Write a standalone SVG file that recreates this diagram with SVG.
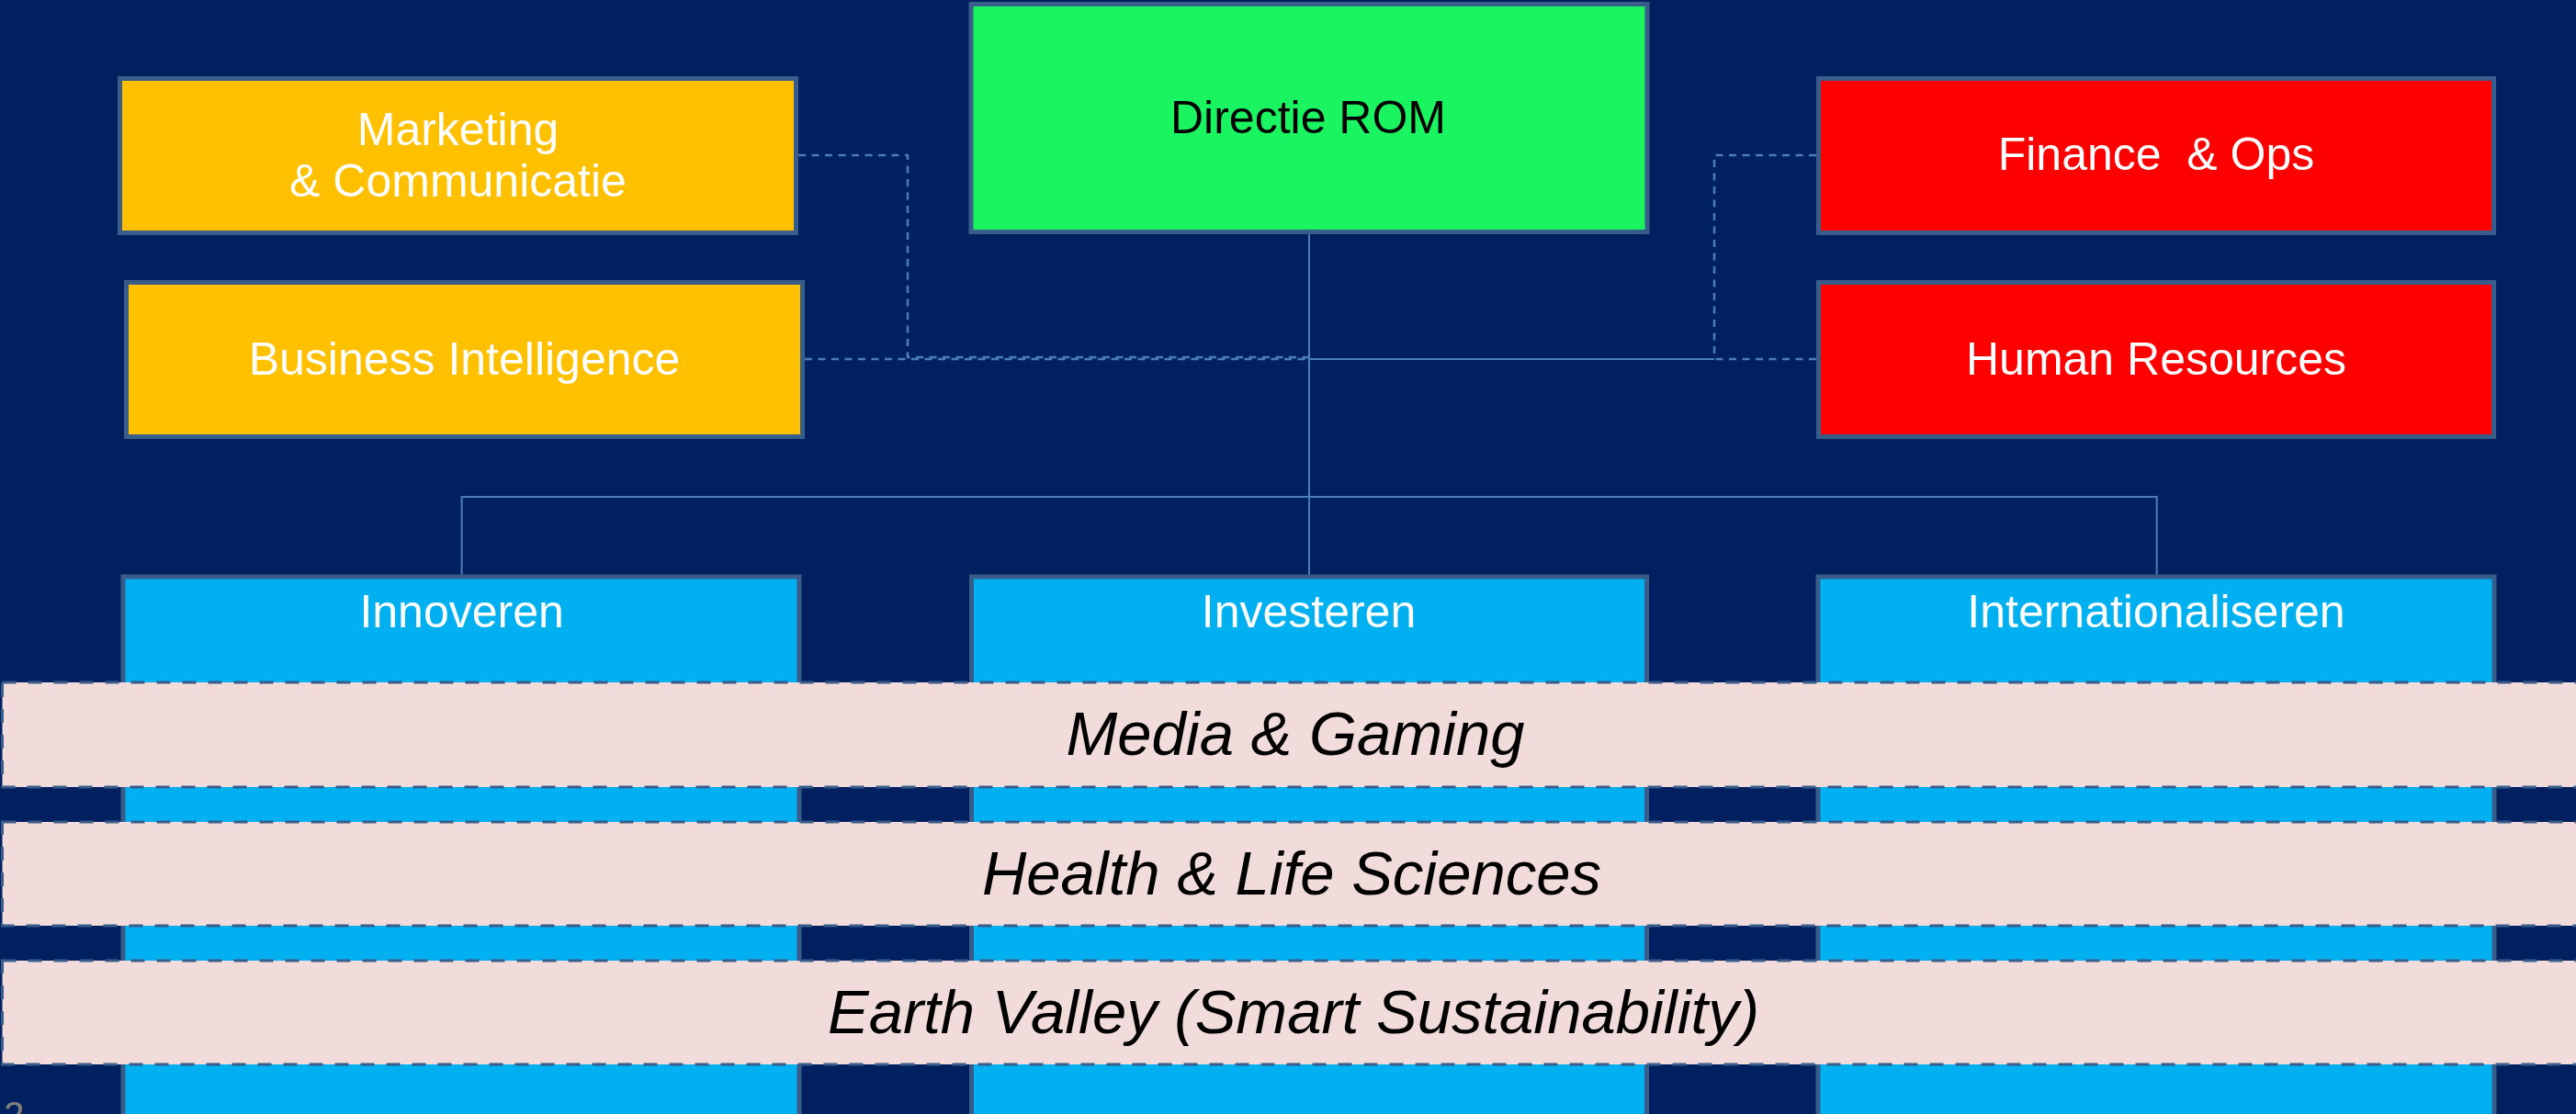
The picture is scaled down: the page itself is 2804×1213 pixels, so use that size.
<svg xmlns="http://www.w3.org/2000/svg" width="2804" height="1213" viewBox="0 0 2804 1213">
<style>
.node{stroke:#385D8A;stroke-width:5}
.t{font-family:"Liberation Sans",Arial,sans-serif;font-size:50px;text-anchor:middle;fill:#FFFFFF}
.tb{fill:#000000}
.band{fill:#F2DCDB;stroke:#385D8A;stroke-width:3;stroke-dasharray:15 13}
.bt{font-family:"Liberation Sans",Arial,sans-serif;font-size:67px;font-style:italic;text-anchor:middle;fill:#000000}
.c{fill:none;stroke:#4A7EBB;stroke-width:2}
.d{fill:none;stroke:#4A7EBB;stroke-width:2.5;stroke-dasharray:8 6.5}
</style>
<rect x="0" y="0" width="2804" height="1213" fill="#002060"/>
<g id="connectors">
<path class="c" d="M1425,255 V626"/>
<path class="c" d="M502.6,626 V541 H2347.7 V626"/>
<path class="c" d="M1425,391 H1866"/>
<path class="d" d="M869,169 H988 V389 H1425"/>
<path class="d" d="M876,391 H1425"/>
<path class="d" d="M1977,169 H1866 V391"/>
<path class="d" d="M1977,391 H1866"/>
</g>
<g id="marketing">
<rect class="node" x="130.5" y="85.5" width="736" height="168" fill="#FFC000"/>
<text class="t" x="498.5" y="158">Marketing</text>
<text class="t" x="498.5" y="214">&amp; Communicatie</text>
</g>
<g id="business-intelligence">
<rect class="node" x="137.5" y="307.5" width="736" height="168" fill="#FFC000"/>
<text class="t" x="505.5" y="408">Business Intelligence</text>
</g>
<g id="directie">
<rect class="node" x="1057" y="4.5" width="736" height="248" fill="#19F460"/>
<text class="t tb" x="1424" y="145">Directie ROM</text>
</g>
<g id="finance">
<rect class="node" x="1979.5" y="85.5" width="735" height="168" fill="#FF0000"/>
<text class="t" x="2347" y="185" xml:space="preserve">Finance  &amp; Ops</text>
</g>
<g id="hr">
<rect class="node" x="1979.5" y="307.5" width="735" height="168" fill="#FF0000"/>
<text class="t" x="2347" y="408">Human Resources</text>
</g>
<g id="innoveren">
<rect class="node" x="134" y="628" width="736" height="600" fill="#00B0F0"/>
<text class="t" x="502.6" y="683">Innoveren</text>
</g>
<g id="investeren">
<rect class="node" x="1057.5" y="628" width="735" height="600" fill="#00B0F0"/>
<text class="t" x="1424.5" y="683">Investeren</text>
</g>
<g id="internationaliseren">
<rect class="node" x="1979" y="628" width="736" height="600" fill="#00B0F0"/>
<text class="t" x="2347" y="683">Internationaliseren</text>
</g>
<g id="band-media">
<rect class="band" x="2.5" y="743" width="2820" height="114"/>
<text class="bt" x="1410" y="822">Media &amp; Gaming</text>
</g>
<g id="band-health">
<rect class="band" x="2.5" y="895" width="2820" height="113"/>
<text class="bt" x="1406" y="974">Health &amp; Life Sciences</text>
</g>
<g id="band-earth">
<rect class="band" x="2.5" y="1046" width="2820" height="113"/>
<text class="bt" x="1408" y="1125">Earth Valley (Smart Sustainability)</text>
</g>
<text x="4" y="1228" font-family="Liberation Sans, Arial, sans-serif" font-size="40" fill="#808080">2</text>
</svg>
